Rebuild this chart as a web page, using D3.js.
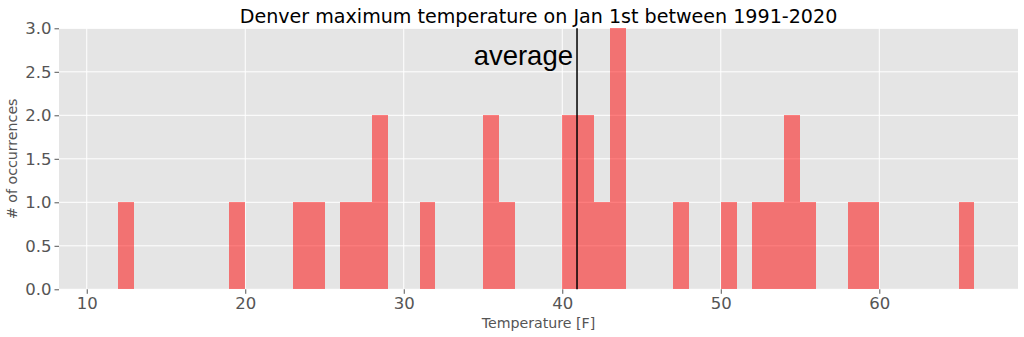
<!DOCTYPE html>
<html>
<head>
<meta charset="utf-8">
<script src="https://cdn.jsdelivr.net/npm/d3@7"></script>
<style>
  html, body { margin: 0; padding: 0; background: #ffffff; }
  svg { display: block; }
</style>
</head>
<body>
<svg id="chart" width="1024" height="337"></svg>
<script>
// ---- data ----
const binStarts = [12, 19, 23, 24, 26, 27, 28, 31, 35, 36, 40, 41, 42, 43, 47, 50, 52, 53, 54, 55, 58, 59, 65];
const binCounts = [1, 1, 1, 1, 1, 1, 2, 1, 2, 1, 2, 2, 1, 3, 1, 1, 1, 1, 2, 1, 1, 1, 1];
const binWidth = 1;
const averageTemp = 40.93;
const xTicks = [10, 20, 30, 40, 50, 60];
const yTicks = [0, 0.5, 1.0, 1.5, 2.0, 2.5, 3.0];
const xDomain = [8.25, 68.75];
const yDomain = [0, 3];
const titleText = "Denver maximum temperature on Jan 1st between 1991-2020";
const xLabelText = "Temperature [F]";
const yLabelText = "# of occurrences";
const avgLabelText = "average";

// ---- layout ----
const margin = { left: 59, right: 6, top: 28.3, bottom: 47.7 };
const W = 1024, H = 337;
const innerW = W - margin.left - margin.right;
const innerH = H - margin.top - margin.bottom;

const svg = d3.select("#chart");
const g = svg.append("g").attr("transform", `translate(${margin.left},${margin.top})`);

const x = d3.scaleLinear().domain(xDomain).range([0, innerW]);
const y = d3.scaleLinear().domain(yDomain).range([innerH, 0]);

// background
g.append("rect").attr("width", innerW).attr("height", innerH).attr("fill", "#E5E5E5");

// grid
g.append("g").selectAll("line").data(xTicks).join("line")
  .attr("x1", d => x(d)).attr("x2", d => x(d))
  .attr("y1", 0).attr("y2", innerH)
  .attr("stroke", "#ffffff").attr("stroke-width", 1);
g.append("g").selectAll("line").data(yTicks).join("line")
  .attr("x1", 0).attr("x2", innerW)
  .attr("y1", d => y(d)).attr("y2", d => y(d))
  .attr("stroke", "#ffffff").attr("stroke-width", 1);

// bars
const bins = binStarts.map((s, i) => ({ x0: s, x1: s + binWidth, n: binCounts[i] }));
g.append("g").selectAll("rect").data(bins).join("rect")
  .attr("x", d => x(d.x0))
  .attr("width", d => x(d.x1) - x(d.x0))
  .attr("y", d => y(d.n))
  .attr("height", d => y(0) - y(d.n))
  .attr("fill", "rgb(255,0,0)")
  .attr("fill-opacity", 0.5)
  .attr("shape-rendering", "crispEdges");

// axes
const fontTick = "DejaVu Sans, sans-serif";
const xAxis = g.append("g").attr("transform", `translate(0,${innerH})`)
  .call(d3.axisBottom(x).tickValues(xTicks).tickFormat(d3.format("d")).tickSize(4.5).tickPadding(3));
const yAxis = g.append("g")
  .call(d3.axisLeft(y).tickValues(yTicks).tickFormat(d3.format(".1f")).tickSize(4.5).tickPadding(3));
[xAxis, yAxis].forEach(a => {
  a.select(".domain").remove();
  a.selectAll(".tick line").attr("stroke", "#555555").attr("stroke-width", 1);
  a.selectAll(".tick text").attr("fill", "#555555")
    .style("font-family", fontTick).style("font-size", "16.5px");
});

// average line
g.append("line")
  .attr("x1", x(averageTemp)).attr("x2", x(averageTemp))
  .attr("y1", y(yDomain[1])).attr("y2", y(0))
  .attr("stroke", "#000000").attr("stroke-width", 1.5);

g.append("text")
  .attr("x", x(averageTemp) - 4)
  .attr("y", 37)
  .attr("text-anchor", "end")
  .style("font-family", "Liberation Sans, Arial, sans-serif")
  .style("font-size", "27.5px")
  .attr("fill", "#000000")
  .text(avgLabelText);

// title
svg.append("text")
  .attr("x", margin.left + innerW / 2)
  .attr("y", 22.5)
  .attr("text-anchor", "middle")
  .style("font-family", fontTick)
  .style("font-size", "19.1px")
  .attr("fill", "#000000")
  .text(titleText);

// x label
svg.append("text")
  .attr("x", margin.left + innerW / 2)
  .attr("y", 327.5)
  .attr("text-anchor", "middle")
  .style("font-family", fontTick)
  .style("font-size", "14.2px")
  .attr("fill", "#555555")
  .text(xLabelText);

// y label
svg.append("text")
  .attr("transform", `translate(17,${margin.top + innerH / 2}) rotate(-90)`)
  .attr("text-anchor", "middle")
  .style("font-family", fontTick)
  .style("font-size", "14.2px")
  .attr("fill", "#555555")
  .text(yLabelText);
</script>
</body>
</html>
